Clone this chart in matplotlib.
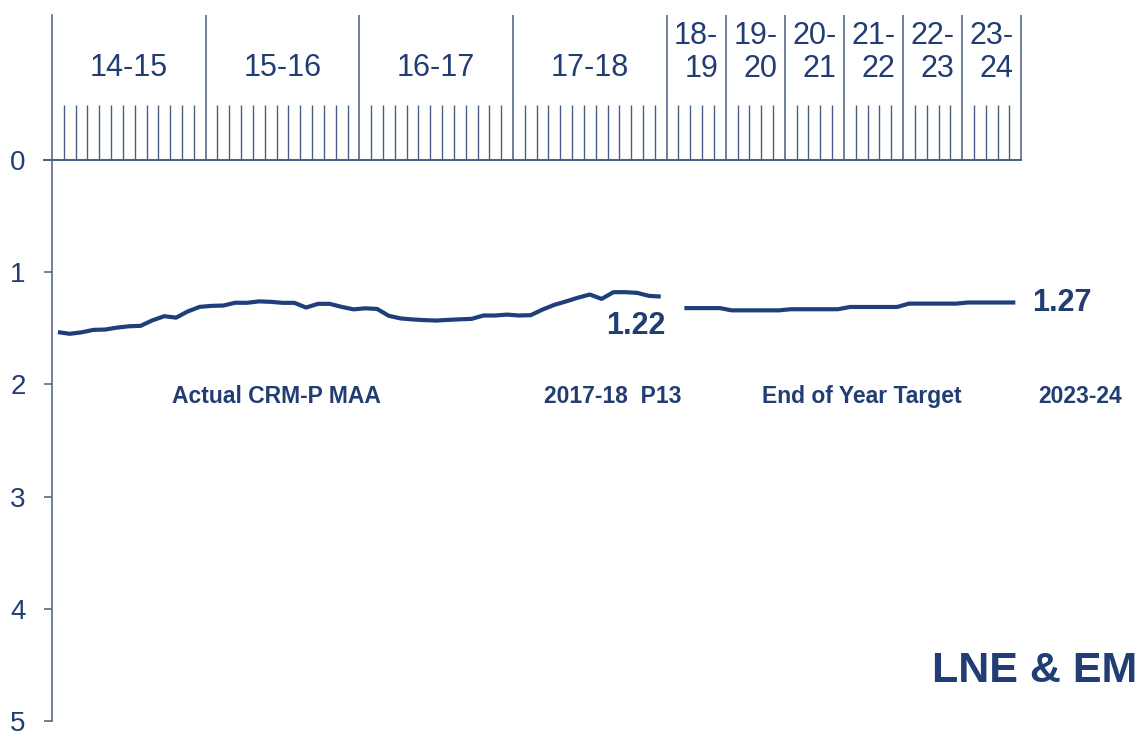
import matplotlib
matplotlib.use("Agg")
import matplotlib.pyplot as plt
import numpy as np

plt.rcParams["font.family"] = ["Liberation Sans", "DejaVu Sans"]

# ─────────────────────────────────────────────
# Data
# ─────────────────────────────────────────────
YEARS         = ["14-15", "15-16", "16-17", "17-18", "18-\n19", "19-\n20",
                 "20-\n21", "21-\n22", "22-\n23", "23-\n24"]
YEAR_PERIODS  = [13, 13, 13, 13, 5, 5, 5, 5, 5, 5]

# actual CRM-P MAA, one value per period (P1 14-15 .. P13 17-18)
actual = [1.534, 1.549, 1.536, 1.514, 1.511, 1.494, 1.482, 1.478, 1.429, 1.392,
          1.405, 1.349, 1.309, 1.300, 1.297, 1.272, 1.273, 1.260, 1.264, 1.273,
          1.273, 1.315, 1.282, 1.282, 1.309, 1.331, 1.322, 1.327, 1.389, 1.412,
          1.421, 1.427, 1.431, 1.425, 1.420, 1.416, 1.386, 1.386, 1.378, 1.386,
          1.383, 1.333, 1.291, 1.260, 1.227, 1.199, 1.238, 1.178, 1.178, 1.184,
          1.211, 1.217]

# end of year target trajectory 18-19 .. 23-24
target = [1.32, 1.32, 1.32, 1.32,
          1.34, 1.34, 1.34, 1.34, 1.34,
          1.33, 1.33, 1.33, 1.33, 1.33,
          1.31, 1.31, 1.31, 1.31, 1.31,
          1.28, 1.28, 1.28, 1.28, 1.28,
          1.27, 1.27, 1.27, 1.27, 1.27]

ACTUAL_LABEL = "1.22"
TARGET_LABEL = "1.27"

# ─────────────────────────────────────────────
# Styling
# ─────────────────────────────────────────────
LINE_COL = "#1F3F7A"
TEXT_COL = "#213D73"
AXIS_COL = "#4A5D82"

W, H, DPI = 1140, 736, 100
X0_PX  = 52
UNIT   = 11.82       # px per period
Y0_PX  = 160
YUNIT  = 112.2       # px per y unit

fig = plt.figure(figsize=(W / DPI, H / DPI), dpi=DPI)
ax = fig.add_axes([X0_PX / W, 0, 1 - X0_PX / W, 1])
ax.set_xlim(0, (W - X0_PX) / UNIT)
ax.set_ylim((H - Y0_PX) / YUNIT, -Y0_PX / YUNIT)
for s in ax.spines.values():
    s.set_visible(False)

ax.set_xticks([])
ax.set_yticks(range(6))
ax.tick_params(axis="y", length=6, width=1.1, color=AXIS_COL, pad=13,
               labelsize=20, labelcolor=TEXT_COL)

# boundaries
bounds = np.concatenate([[0], np.cumsum(YEAR_PERIODS)])
total = bounds[-1]
top_year = -1.29
top_tick = -0.49

ax.plot([0, 0], [top_year, 5], color=AXIS_COL, lw=1.1, clip_on=False)
ax.plot([-0.7, total], [0, 0], color=AXIS_COL, lw=1.4, clip_on=False)
ax.vlines(bounds[1:], top_year, 0, color=AXIS_COL, lw=1.1)
minor = [p for p in range(1, total) if p not in bounds]
ax.vlines(minor, top_tick, 0, color=AXIS_COL, lw=1.0)

for i, lab in enumerate(YEARS):
    cx = (bounds[i] + bounds[i + 1]) / 2
    cy = -0.82 if "\n" not in lab else -0.955
    ax.text(cx, cy, lab, ha="center", va="center", fontsize=22,
            color=TEXT_COL, linespacing=1.12, multialignment="right")

# lines
xa = np.arange(len(actual)) + 0.5
ax.plot(xa, actual, color=LINE_COL, lw=3, solid_capstyle="butt")
xt = np.arange(len(target)) + 53.5
ax.plot(xt, target, color=LINE_COL, lw=3, solid_capstyle="butt")

ax.text(49.4, 1.478, ACTUAL_LABEL, ha="center", va="center", fontsize=22,
        fontweight="bold", color=TEXT_COL)
ax.text(82.9, 1.273, TARGET_LABEL, ha="left", va="center", fontsize=22,
        fontweight="bold", color=TEXT_COL)

lab_y = 2.11
ax.text(18.95, lab_y, "Actual CRM-P MAA", ha="center", va="center",
        fontsize=16.5, fontweight="bold", color=TEXT_COL)
ax.text(47.4, lab_y, "2017-18  P13", ha="center", va="center",
        fontsize=16.5, fontweight="bold", color=TEXT_COL)
ax.text(68.5, lab_y, "End of Year Target", ha="center", va="center",
        fontsize=16.5, fontweight="bold", color=TEXT_COL)
ax.text(87.0, lab_y, "2023-24", ha="center", va="center",
        fontsize=16.5, fontweight="bold", color=TEXT_COL)

ax.text(91.8, 4.55, "LNE & EM", ha="right", va="center", fontsize=31,
        fontweight="bold", color=TEXT_COL)

fig.savefig("out.png", dpi=DPI)
